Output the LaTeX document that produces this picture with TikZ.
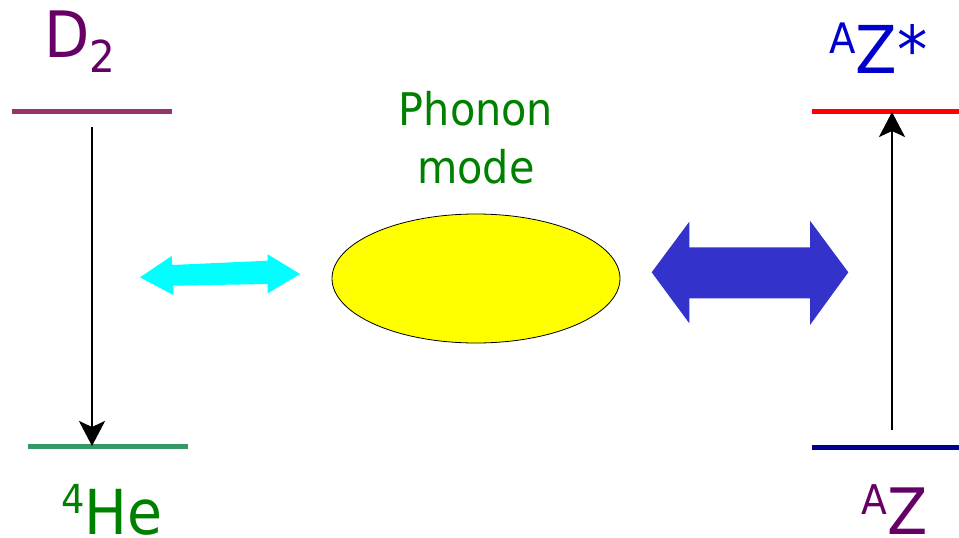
\documentclass[tikz,border=0pt]{standalone}
\usepackage{fontspec}
\setmainfont{DejaVu Sans}[FakeStretch=0.92]
\usetikzlibrary{arrows.meta,shapes.geometric}
\definecolor{dpurple}{HTML}{660066}
\definecolor{mauve}{HTML}{993366}
\definecolor{hegreen}{HTML}{008000}
\definecolor{seagreen}{HTML}{339966}
\definecolor{azblue}{HTML}{0000CC}
\definecolor{navy}{HTML}{000090}
\definecolor{bigblue}{HTML}{3333CC}
\definecolor{aqua}{HTML}{00FFFF}
\definecolor{yel}{HTML}{FFFF00}
\definecolor{lred}{HTML}{FF0000}
\begin{document}
\begin{tikzpicture}[x=1pt,y=-1pt,
  level/.style={line width=5pt},
  trans/.style={line width=2.4pt,-{Stealth[length=25pt,width=26pt,inset=6pt]}},
  lbl/.style={inner sep=0pt,anchor=base west}]
\useasboundingbox[fill=white] (0,0) rectangle (959,538);
% energy levels
\coordinate (d2a) at (12,111);  \coordinate (d2b) at (172,111);
\coordinate (hea) at (28,446);  \coordinate (heb) at (188,446);
\coordinate (zsa) at (812,111); \coordinate (zsb) at (959,111);
\coordinate (za) at (812,447);  \coordinate (zb) at (959,447);
\draw[level,mauve] (d2a) -- (d2b);
\draw[level,seagreen] (hea) -- (heb);
\draw[level,lred] (zsa) -- (zsb);
\draw[level,navy] (za) -- (zb);
% transitions
\coordinate (t1s) at (92,127); \coordinate (t1e) at (92,446);
\coordinate (t2s) at (892,430); \coordinate (t2e) at (892,112);
\draw[trans] (t1s) -- (t1e);
\draw[trans] (t2s) -- (t2e);
% labels
\node[lbl,text=dpurple] (lD) at (44,57) {\fontsize{64}{64}\selectfont D\raisebox{-15pt}{\fontsize{44}{44}\selectfont 2}};
\node[lbl,text=hegreen] (lHe) at (61,534) {\raisebox{21pt}{\fontsize{40}{40}\selectfont 4}\fontsize{62}{62}\selectfont He};
\node[lbl,text=azblue] (lZs) at (829,73) {\raisebox{20pt}{\fontsize{42}{42}\selectfont A}\fontsize{66}{66}\selectfont Z*};
\node[lbl,text=dpurple] (lZ) at (861,534) {\raisebox{20pt}{\fontsize{41}{41}\selectfont A}\fontsize{64}{64}\selectfont Z};
\node[inner sep=0pt,anchor=base,text=hegreen,align=center,font=\fontsize{45}{58}\selectfont] (lph) at (476,183) {Phonon\\mode};
% phonon mode
\node[ellipse,draw=black,line width=0.8pt,fill=yel,minimum width=288pt,minimum height=129pt,inner sep=0pt] (ph) at (476,278.5) {};
% coupling arrows
\fill[aqua] (140,277.3) -- (171.7,256) -- (172.3,265) -- (267.7,260.7) -- (267.7,254.3)
  -- (300,274) -- (267.7,293.3) -- (267.7,284) -- (173.3,285.7) -- (173.3,295) -- cycle;
\fill[bigblue] (651.7,272.3) -- (689.3,221.7) -- (689.3,247.3) -- (810,247.3) -- (810,220.7)
  -- (848.3,272.3) -- (810,325) -- (810,298.3) -- (689.3,298.3) -- (689.3,323.3) -- cycle;
\end{tikzpicture}
\end{document}
